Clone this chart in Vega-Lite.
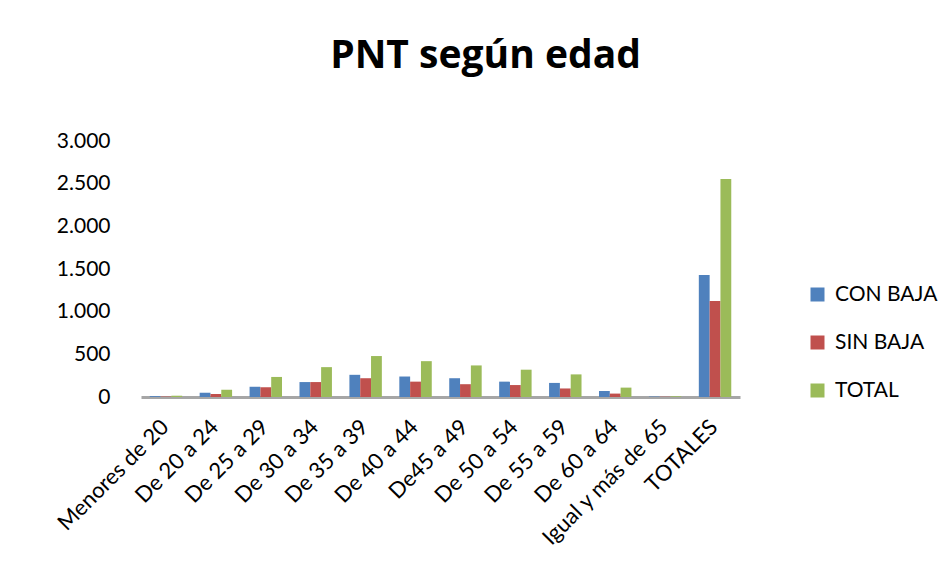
{
  "$schema": "https://vega.github.io/schema/vega-lite/v6.json",
  "autosize": "none",
  "width": 599,
  "height": 256,
  "padding": {"left": 141, "top": 141, "right": 208, "bottom": 183},
  "background": "white",
  "title": {
    "text": "PNT según edad",
    "font": "Open Sans",
    "fontSize": 39,
    "fontWeight": "bold",
    "color": "#000000",
    "anchor": "middle",
    "frame": "group",
    "dx": 45,
    "baseline": "alphabetic",
    "offset": 23
  },
  "config": {
    "locale": {"number": {"decimal": ",", "thousands": ".", "grouping": [3], "currency": ["", " €"]}},
    "view": {"stroke": null},
    "font": "Lato"
  },
  "data": {
    "values": [
      {"grupo": "Menores de 20", "serie": "CON BAJA", "valor": 10},
      {"grupo": "Menores de 20", "serie": "SIN BAJA", "valor": 5},
      {"grupo": "Menores de 20", "serie": "TOTAL", "valor": 15},
      {"grupo": "De 20 a 24", "serie": "CON BAJA", "valor": 50},
      {"grupo": "De 20 a 24", "serie": "SIN BAJA", "valor": 35},
      {"grupo": "De 20 a 24", "serie": "TOTAL", "valor": 85},
      {"grupo": "De 25 a 29", "serie": "CON BAJA", "valor": 120},
      {"grupo": "De 25 a 29", "serie": "SIN BAJA", "valor": 115},
      {"grupo": "De 25 a 29", "serie": "TOTAL", "valor": 235},
      {"grupo": "De 30 a 34", "serie": "CON BAJA", "valor": 175},
      {"grupo": "De 30 a 34", "serie": "SIN BAJA", "valor": 175},
      {"grupo": "De 30 a 34", "serie": "TOTAL", "valor": 350},
      {"grupo": "De 35 a 39", "serie": "CON BAJA", "valor": 260},
      {"grupo": "De 35 a 39", "serie": "SIN BAJA", "valor": 220},
      {"grupo": "De 35 a 39", "serie": "TOTAL", "valor": 480},
      {"grupo": "De 40 a 44", "serie": "CON BAJA", "valor": 240},
      {"grupo": "De 40 a 44", "serie": "SIN BAJA", "valor": 180},
      {"grupo": "De 40 a 44", "serie": "TOTAL", "valor": 420},
      {"grupo": "De45 a 49", "serie": "CON BAJA", "valor": 220},
      {"grupo": "De45 a 49", "serie": "SIN BAJA", "valor": 150},
      {"grupo": "De45 a 49", "serie": "TOTAL", "valor": 370},
      {"grupo": "De 50 a 54", "serie": "CON BAJA", "valor": 180},
      {"grupo": "De 50 a 54", "serie": "SIN BAJA", "valor": 140},
      {"grupo": "De 50 a 54", "serie": "TOTAL", "valor": 320},
      {"grupo": "De 55 a 59", "serie": "CON BAJA", "valor": 165},
      {"grupo": "De 55 a 59", "serie": "SIN BAJA", "valor": 100},
      {"grupo": "De 55 a 59", "serie": "TOTAL", "valor": 265},
      {"grupo": "De 60 a 64", "serie": "CON BAJA", "valor": 70},
      {"grupo": "De 60 a 64", "serie": "SIN BAJA", "valor": 40},
      {"grupo": "De 60 a 64", "serie": "TOTAL", "valor": 110},
      {"grupo": "Igual y más de 65", "serie": "CON BAJA", "valor": 5},
      {"grupo": "Igual y más de 65", "serie": "SIN BAJA", "valor": 3},
      {"grupo": "Igual y más de 65", "serie": "TOTAL", "valor": 8},
      {"grupo": "TOTALES", "serie": "CON BAJA", "valor": 1430},
      {"grupo": "TOTALES", "serie": "SIN BAJA", "valor": 1125},
      {"grupo": "TOTALES", "serie": "TOTAL", "valor": 2555}
    ]
  },
  "mark": {"type": "bar", "cornerRadiusTop": 3},
  "encoding": {
    "x": {
      "field": "grupo",
      "type": "nominal",
      "sort": null,
      "scale": {"paddingInner": 0.35, "paddingOuter": 0.175},
      "axis": {
        "title": null,
        "labelAngle": -45,
        "labelAlign": "right",
        "labelBaseline": "top",
        "labelFontSize": 22,
        "labelColor": "#000000",
        "labelPadding": 19,
        "labelOffset": -8,
        "ticks": false,
        "domainColor": "#A6A6A6",
        "domainWidth": 3
      }
    },
    "xOffset": {"field": "serie", "type": "nominal", "sort": ["CON BAJA", "SIN BAJA", "TOTAL"]},
    "y": {
      "field": "valor",
      "type": "quantitative",
      "scale": {"domain": [0, 3000], "nice": false},
      "axis": {
        "title": null,
        "values": [0, 500, 1000, 1500, 2000, 2500, 3000],
        "format": ",.0f",
        "grid": false,
        "domain": false,
        "ticks": false,
        "labelFontSize": 21,
        "labelColor": "#000000",
        "labelPadding": 31
      }
    },
    "color": {
      "field": "serie",
      "type": "nominal",
      "scale": {"domain": ["CON BAJA", "SIN BAJA", "TOTAL"], "range": ["#4F81BD", "#C0504D", "#9BBB59"]},
      "legend": {
        "title": null,
        "orient": "none",
        "legendX": 666,
        "legendY": 143,
        "symbolType": "square",
        "symbolSize": 196,
        "symbolStrokeWidth": 0,
        "labelFontSize": 21,
        "labelColor": "#000000",
        "labelOffset": 7,
        "rowPadding": 26
      }
    }
  }
}
